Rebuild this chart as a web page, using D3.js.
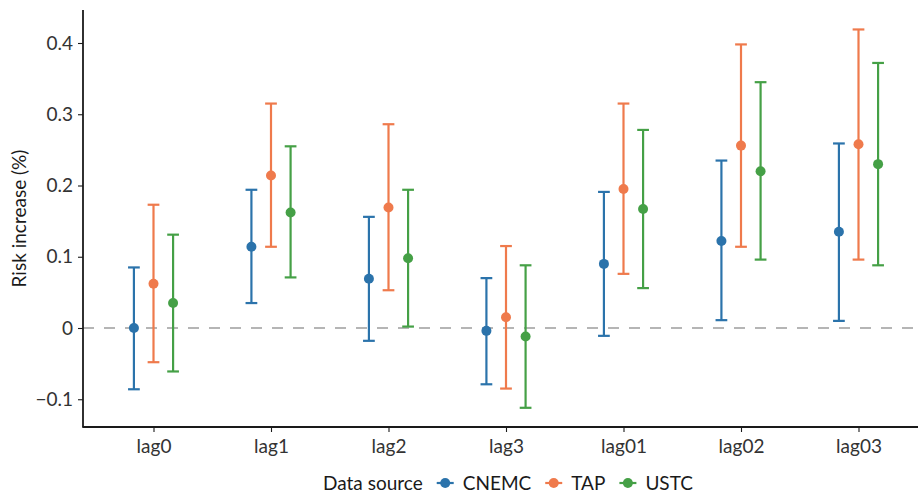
<!DOCTYPE html>
<html><head><meta charset="utf-8">
<script src="https://cdn.jsdelivr.net/npm/d3@7"></script>
<style>body{margin:0;background:#fff}svg{display:block}text{font-family:Lato,"Open Sans",sans-serif;fill:#1a1a1a}</style>
</head><body><svg id="c" width="918" height="493"></svg>
<script>
const categories = ["lag0","lag1","lag2","lag3","lag01","lag02","lag03"];
const sources = ["CNEMC","TAP","USTC"];
const colors = ["#2b73ab","#ef7a4c","#45a046"];
const cnemcEst = [0.000, 0.114, 0.069, -0.004, 0.090, 0.122, 0.135];
const cnemcLow = [-0.086, 0.035, -0.018, -0.079, -0.011, 0.011, 0.010];
const cnemcHigh = [0.085, 0.194, 0.156, 0.070, 0.191, 0.235, 0.259];
const tapEst = [0.062, 0.214, 0.169, 0.015, 0.195, 0.256, 0.258];
const tapLow = [-0.048, 0.114, 0.053, -0.085, 0.076, 0.114, 0.096];
const tapHigh = [0.173, 0.315, 0.286, 0.115, 0.315, 0.398, 0.419];
const ustcEst = [0.035, 0.162, 0.098, -0.012, 0.167, 0.220, 0.230];
const ustcLow = [-0.061, 0.071, 0.002, -0.112, 0.056, 0.096, 0.088];
const ustcHigh = [0.131, 0.255, 0.194, 0.088, 0.278, 0.345, 0.372];
const yTicks = [-0.1, 0, 0.1, 0.2, 0.3, 0.4];
const yTickLabels = ["\u22120.1","0","0.1","0.2","0.3","0.4"];

const series = [
  {name:"CNEMC", est:cnemcEst, low:cnemcLow, high:cnemcHigh},
  {name:"TAP", est:tapEst, low:tapLow, high:tapHigh},
  {name:"USTC", est:ustcEst, low:ustcLow, high:ustcHigh}
];

const svg = d3.select("#c");
const mLeft = 83, mTop = 10, mBottom = 427;
const fs = 19;
const x = d3.scaleLinear().domain([0.4, 7.6]).range([mLeft, mLeft + 7.2*117.5]);
const y = d3.scaleLinear().domain([-0.1, 0.4]).range([399.25, 43]);
const color = d3.scaleOrdinal().domain(sources).range(colors);
const dodge = 0.5/3, cap = 0.05;

// zero line
svg.append("line").attr("x1", mLeft).attr("x2", 918).attr("y1", y(0)).attr("y2", y(0))
  .attr("stroke","#b5b5b5").attr("stroke-width",2.2).attr("stroke-dasharray","11,10");

series.forEach((s, si) => {
  const g = svg.append("g").attr("stroke", color(s.name)).attr("fill", color(s.name));
  categories.forEach((c, i) => {
    const pos = i + 1 + (si - 1) * dodge;
    const cx = x(pos), xl = x(pos - cap), xr = x(pos + cap);
    g.append("line").attr("x1",cx).attr("x2",cx).attr("y1",y(s.low[i])).attr("y2",y(s.high[i])).attr("stroke-width",2.2);
    g.append("line").attr("x1",xl).attr("x2",xr).attr("y1",y(s.low[i])).attr("y2",y(s.low[i])).attr("stroke-width",2.2);
    g.append("line").attr("x1",xl).attr("x2",xr).attr("y1",y(s.high[i])).attr("y2",y(s.high[i])).attr("stroke-width",2.2);
    g.append("circle").attr("cx",cx).attr("cy",y(s.est[i])).attr("r",5).attr("stroke","none");
  });
});

// axes
const yAxis = d3.axisLeft(y).tickValues(yTicks).tickFormat((d,i)=>yTickLabels[i]).tickSize(5).tickPadding(5);
const ya = svg.append("g").attr("transform",`translate(${mLeft},0)`).call(yAxis);
ya.select(".domain").remove();
ya.selectAll(".tick line").attr("stroke","#1a1a1a").attr("stroke-width",1.1);
ya.selectAll("text").attr("font-size",fs).style("fill","#333");
svg.append("line").attr("x1",mLeft).attr("x2",mLeft).attr("y1",mTop).attr("y2",mBottom+0.5).attr("stroke","#1a1a1a").attr("stroke-width",1.8);

const xBand = d3.scalePoint().domain(categories).range([x(1), x(7)]);
const xAxis = d3.axisBottom(xBand).tickSize(5).tickPadding(8);
const xa = svg.append("g").attr("transform",`translate(0,${mBottom})`).call(xAxis);
xa.select(".domain").remove();
xa.selectAll(".tick line").attr("stroke","#1a1a1a").attr("stroke-width",1.1);
xa.selectAll("text").attr("font-size",fs).style("fill","#333");
svg.append("line").attr("x1",mLeft-0.5).attr("x2",930).attr("y1",mBottom).attr("y2",mBottom).attr("stroke","#1a1a1a").attr("stroke-width",1.8);

svg.append("text").attr("transform",`translate(26,${(mTop+mBottom)/2}) rotate(-90)`)
  .attr("text-anchor","middle").attr("font-size",fs).text("Risk increase (%)");

// legend (laid out from measured text widths, centred like the reference)
const leg = svg.append("g").attr("transform","translate(0,483)");
const title = leg.append("text").attr("y",6.5).attr("font-size",fs).text("Data source");
let cur = title.node().getComputedTextLength() + 14;
const items = [];
sources.forEach((s,i) => {
  const gx = cur;
  const ln = leg.append("line").attr("x1",gx).attr("x2",gx+17).attr("y1",0).attr("y2",0)
    .attr("stroke",color(s)).attr("stroke-width",2.2);
  leg.append("circle").attr("cx",gx+8.5).attr("cy",0).attr("r",5).attr("fill",color(s));
  const t = leg.append("text").attr("x",gx+26).attr("y",6.5).attr("font-size",fs).text(s);
  cur = gx + 26 + t.node().getComputedTextLength() + (i < sources.length-1 ? 14 : 0);
});
const startX = 508 - cur/2;
leg.attr("transform",`translate(${startX},483)`);
</script></body></html>
